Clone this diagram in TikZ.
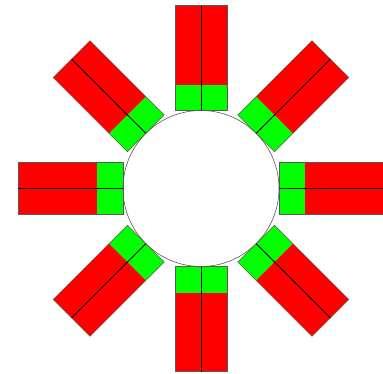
\documentclass[tikz,border=0pt]{standalone}
\usepackage{tikz}
\definecolor{padred}{RGB}{255,0,0}
\definecolor{padgreen}{RGB}{0,255,0}
\definecolor{rimgray}{RGB}{90,90,90}

\begin{document}
\begin{tikzpicture}[x=1pt, y=1pt,
  padedge/.style={draw=rimgray, line width=0.6pt},
  midline/.style={draw=black, line width=0.8pt},
  rim/.style={draw=rimgray, line width=0.6pt}
]
\useasboundingbox (-201,-184.5) rectangle (182,188.5);
% eight pads round the ring
\foreach \ang in {0,45,...,315}{
  \begin{scope}[rotate=\ang]
    \fill[padgreen] (78,-26) rectangle (104,26);
    \fill[padred] (104,-26) rectangle (183,26);
    \draw[padedge] (78,-26) rectangle (183,26);
    \draw[midline] (78,0) -- (183,0);
  \end{scope}
}
\draw[rim] (0,0) circle (78);
\end{tikzpicture}
\end{document}
